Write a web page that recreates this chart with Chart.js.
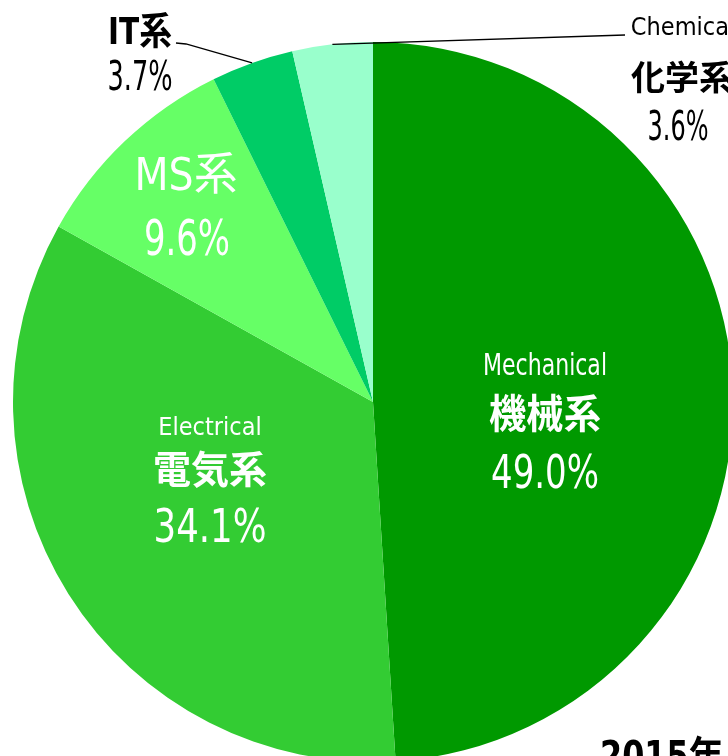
<!DOCTYPE html>
<html>
<head>
<meta charset="utf-8">
<script src="https://cdn.jsdelivr.net/npm/chart.js@4"></script>
<style>
  html, body { margin: 0; padding: 0; background: #fff; }
  #wrap { width: 728px; height: 756px; overflow: hidden; position: relative; }
  #pie { position: absolute; left: 0; top: 0; }
</style>
</head>
<body>
<div id="wrap"><canvas id="pie" width="760" height="800"></canvas></div>
<script>
// data (clockwise from 12 o'clock)
const categories = ['Mechanical', 'Electrical', 'MS', 'IT', 'Chemical'];
const nameJa = ['機械系', '電気系', 'MS系', 'IT系', '化学系'];
const shares = [49.0, 34.1, 9.6, 3.7, 3.6];
const colors = ['#009900', '#33cc33', '#66ff66', '#00cc66', '#99ffcc'];
const yearLabel = '2015年';

const JP = '"Noto Sans CJK JP", "Noto Sans", sans-serif';
const NARROW = '"DejaVu Sans Condensed", "Noto Sans CJK JP", sans-serif';

// label blocks: [text, dx, baseline dy, font, maxWidth] relative to pie centre
const labelLayout = [
  { color: '#fff', lines: [
    [categories[0], 172, -27, '30px ' + NARROW, 124],
    [nameJa[0], 172, 26, 'bold 40px ' + JP, 112],
    [shares[0].toFixed(1) + '%', 172, 86, '47px ' + NARROW, 108] ] },
  { color: '#fff', lines: [
    [categories[1], -163, 33, '25px ' + NARROW, 108],
    [nameJa[1], -163, 81, 'bold 38px ' + JP, 116],
    [shares[1].toFixed(1) + '%', -163, 140, '46px ' + NARROW, 113] ] },
  { color: '#fff', lines: [
    [nameJa[2], -187, -212, '45px ' + NARROW, 103],
    [shares[2].toFixed(1) + '%', -186, -147, '50px ' + NARROW, 86] ] },
  { color: '#000', leader: [[-187, -358], [-197, -359]], lines: [
    [nameJa[3], -233, -358, 'bold 38px ' + NARROW, 64],
    [shares[3].toFixed(1) + '%', -233, -312, '40px ' + NARROW, 65] ] },
  { color: '#000', leader: [[252, -367]], lines: [
    [categories[4], 310, -367, '25px ' + NARROW, 108],
    [nameJa[4], 309, -312, 'bold 34px ' + JP, 102],
    [shares[4].toFixed(1) + '%', 305, -262, '40px ' + NARROW, 61] ] }
];

const labelPlugin = {
  id: 'pieLabels',
  afterDraw(chart) {
    const ctx = chart.ctx;
    const arcs = chart.getDatasetMeta(0).data;
    ctx.save();
    arcs.forEach((arc, i) => {
      const cfg = labelLayout[i];
      const cx = arc.x, cy = arc.y;
      if (cfg.leader) {
        const mid = (arc.startAngle + arc.endAngle) / 2;
        ctx.beginPath();
        ctx.strokeStyle = '#000';
        ctx.lineWidth = 1.3;
        ctx.moveTo(cx + Math.cos(mid) * arc.outerRadius, cy + Math.sin(mid) * arc.outerRadius);
        cfg.leader.forEach(p => ctx.lineTo(cx + p[0], cy + p[1]));
        ctx.stroke();
      }
      ctx.fillStyle = cfg.color;
      ctx.textAlign = 'center';
      ctx.textBaseline = 'alphabetic';
      cfg.lines.forEach(l => {
        ctx.font = l[3];
        ctx.fillText(l[0], cx + l[1], cy + l[2], l[4]);
      });
    });
    // year caption, bottom right
    const a = arcs[0];
    ctx.fillStyle = '#000';
    ctx.textAlign = 'left';
    ctx.font = 'bold 40px ' + NARROW;
    ctx.fillText(yearLabel, a.x + 227, a.y + 368, 124);
    ctx.restore();
  }
};

new Chart(document.getElementById('pie'), {
  type: 'pie',
  data: {
    labels: categories,
    datasets: [{
      data: shares,
      backgroundColor: colors,
      borderWidth: 0
    }]
  },
  options: {
    responsive: false,
    animation: false,
    layout: { padding: { left: 13, top: 42, right: 27, bottom: 38 } },
    plugins: {
      legend: { display: false },
      tooltip: { enabled: false }
    }
  },
  plugins: [labelPlugin]
});
</script>
</body>
</html>
